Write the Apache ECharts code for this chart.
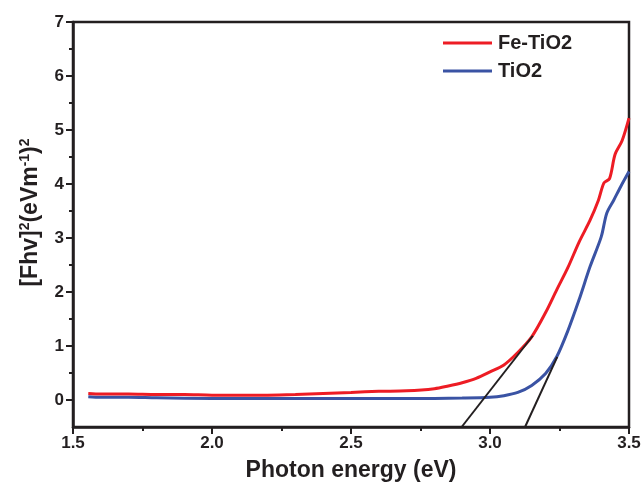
<!DOCTYPE html>
<html>
<head>
<meta charset="utf-8">
<script src="https://cdn.jsdelivr.net/npm/echarts@6/dist/echarts.min.js"></script>
<style>
html, body { margin: 0; padding: 0; background: #fff; }
#main { width: 644px; height: 488px; }
</style>
</head>
<body>
<div id="main"></div>
<script>
// Tauc plot: Fe-TiO2 vs TiO2
var series_names = ["Fe-TiO2", "TiO2"];
var fe_energy = [1.555, 1.6, 1.7, 1.8, 1.9, 2.0, 2.1, 2.2, 2.3, 2.4, 2.5, 2.6, 2.7, 2.8, 2.85, 2.9, 2.95, 3.0, 3.05, 3.1, 3.15, 3.2, 3.24, 3.28, 3.32, 3.36, 3.39, 3.41, 3.43, 3.45, 3.475, 3.5];
var fe_value = [0.12, 0.11, 0.11, 0.10, 0.10, 0.09, 0.09, 0.09, 0.10, 0.12, 0.14, 0.16, 0.17, 0.21, 0.26, 0.32, 0.40, 0.52, 0.65, 0.88, 1.17, 1.62, 2.04, 2.45, 2.92, 3.33, 3.70, 4.02, 4.10, 4.55, 4.80, 5.22];
var ti_energy = [1.555, 1.6, 1.7, 1.8, 2.0, 2.2, 2.4, 2.6, 2.8, 2.9, 3.0, 3.05, 3.1, 3.15, 3.2, 3.24, 3.28, 3.32, 3.36, 3.4, 3.42, 3.445, 3.47, 3.5];
var ti_value = [0.06, 0.05, 0.05, 0.04, 0.03, 0.03, 0.03, 0.03, 0.03, 0.035, 0.05, 0.08, 0.14, 0.27, 0.49, 0.80, 1.28, 1.85, 2.47, 3.02, 3.46, 3.70, 3.95, 4.23];
// tangent (band gap) lines
var fe_tangent_x = [2.898, 3.154];
var fe_tangent_y = [-0.5, 1.19];
var ti_tangent_x = [3.126, 3.242];
var ti_tangent_y = [-0.5, 0.80];
var y_major_ticks = [0, 1, 2, 3, 4, 5, 6, 7];
var y_minor_ticks = [0.5, 1.5, 2.5, 3.5, 4.5, 5.5, 6.5];

var line_colors = ["#ed1c24", "#3a53a4"];
var ink = "#231f20";
var font = "'Liberation Sans', Arial, sans-serif";

function zip(xs, ys){
	var out = [];
	for(var i = 0; i < xs.length; i++){
		out.push([xs[i], ys[i]]);
	}
	return out;
}

var chart = echarts.init(document.getElementById("main"));
var option = {
	animation: false,
	textStyle: { fontFamily: font },
	grid: {
		left: 73, right: 15, top: 22, bottom: 61,
		show: true, borderColor: ink, borderWidth: 2.5, backgroundColor: "transparent"
	},
	legend: {
		data: series_names,
		orient: "vertical",
		left: 443,
		top: 33,
		padding: 0,
		icon: "rect",
		itemWidth: 49,
		itemHeight: 3,
		itemGap: 8,
		textStyle: { fontSize: 20, fontWeight: "bold", color: ink, fontFamily: font, padding: [0, 0, 0, 1] }
	},
	xAxis: {
		type: "value",
		min: 1.5, max: 3.5, interval: 0.5,
		name: "Photon energy (eV)",
		nameLocation: "middle",
		nameGap: 32,
		nameTextStyle: { fontSize: 23, fontWeight: "bold", color: ink, fontFamily: font },
		axisLine: { show: true, onZero: false, lineStyle: { color: ink, width: 2.5 } },
		axisTick: { show: true, length: 7, lineStyle: { color: ink, width: 2 } },
		minorTick: { show: true, splitNumber: 2, length: 4, lineStyle: { color: ink, width: 2 } },
		axisLabel: {
			fontSize: 17, fontWeight: "bold", color: ink, margin: 8, fontFamily: font,
			formatter: function(v){ return v.toFixed(1); }
		},
		splitLine: { show: false }
	},
	yAxis: [{
		type: "value",
		min: -0.5, max: 7, interval: 0.5,
		name: "[Fhv]{s|2}(eVm{s|-1}){s|2}",
		nameLocation: "middle",
		nameGap: 28,
		nameTextStyle: {
			fontSize: 23, fontWeight: "bold", color: ink, fontFamily: font, lineHeight: 26,
			padding: [0, 0, 0, 24],
			rich: { s: { fontSize: 14, fontWeight: "bold", color: ink, fontFamily: font, verticalAlign: "top", lineHeight: 26, padding: [0, 0, 10, 0] } }
		},
		axisLine: { show: true, onZero: false, lineStyle: { color: ink, width: 2.5 } },
		axisTick: { show: true, length: 7, customValues: y_major_ticks, lineStyle: { color: ink, width: 2 } },
		axisLabel: {
			fontSize: 17, fontWeight: "bold", color: ink, margin: 9, fontFamily: font,
			customValues: y_major_ticks,
			formatter: function(v){ return (v % 1 === 0) ? String(v) : ""; }
		},
		splitLine: { show: false }
	}, {
		type: "value",
		position: "left",
		min: -0.5, max: 7, interval: 0.5,
		axisLine: { show: false },
		axisTick: { show: true, length: 4, customValues: y_minor_ticks, lineStyle: { color: ink, width: 2 } },
		axisLabel: { show: false },
		splitLine: { show: false }
	}],
	series: [{
		name: series_names[0],
		type: "line",
		data: zip(fe_energy, fe_value),
		symbol: "none",
		smooth: 0.3,
		color: line_colors[0],
		lineStyle: { color: line_colors[0], width: 3 },
		z: 3
	}, {
		name: series_names[1],
		type: "line",
		data: zip(ti_energy, ti_value),
		symbol: "none",
		smooth: 0.3,
		color: line_colors[1],
		lineStyle: { color: line_colors[1], width: 3 },
		z: 2
	}, {
		name: "tangent1",
		type: "line",
		data: zip(fe_tangent_x, fe_tangent_y),
		symbol: "none",
		lineStyle: { color: ink, width: 2 },
		z: 4
	}, {
		name: "tangent2",
		type: "line",
		data: zip(ti_tangent_x, ti_tangent_y),
		symbol: "none",
		lineStyle: { color: ink, width: 2 },
		z: 4
	}]
};
chart.setOption(option);
</script>
</body>
</html>
